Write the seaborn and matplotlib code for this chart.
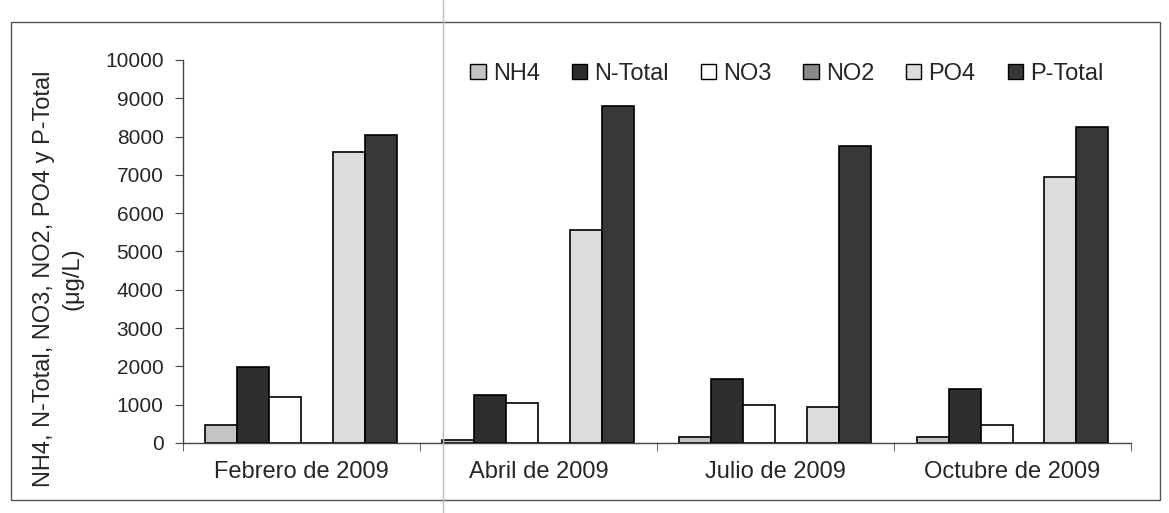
import numpy as np
import pandas as pd
import matplotlib
matplotlib.use("Agg")
import matplotlib.pyplot as plt
from matplotlib.patches import Rectangle
from matplotlib.lines import Line2D
import seaborn as sb

# data (µg/L)
fechas = ["Febrero de 2009", "Abril de 2009", "Julio de 2009", "Octubre de 2009"]
series = ["NH4", "N-Total", "NO3", "NO2", "PO4", "P-Total"]
nh4 = [470, 80, 165, 150]
n_total = [1990, 1250, 1680, 1420]
no3 = [1200, 1040, 1000, 480]
no2 = [0, 0, 0, 0]
po4 = [7600, 5560, 950, 6950]
p_total = [8050, 8800, 7750, 8250]

colores = {"NH4": "#c4c4c4", "N-Total": "#2e2e2e", "NO3": "#ffffff",
           "NO2": "#8a8a8a", "PO4": "#dcdcdc", "P-Total": "#383838"}

df = pd.DataFrame({"fecha": fechas, "NH4": nh4, "N-Total": n_total, "NO3": no3,
                   "NO2": no2, "PO4": po4, "P-Total": p_total})
largo = df.melt(id_vars="fecha", var_name="serie", value_name="valor")

sb.set_style("white")
plt.rcParams["font.family"] = ["Liberation Sans", "DejaVu Sans"]

fig = plt.figure(figsize=(11.69, 5.13), dpi=100)
ax = fig.add_axes([0.1565, 0.1365, 0.811, 0.7466])

sb.barplot(data=largo, x="fecha", y="valor", hue="serie", order=fechas,
           hue_order=series, palette=colores, width=0.81, saturation=1,
           edgecolor="black", linewidth=1.2, ax=ax, legend=False)

ax.set_ylim(0, 10000)
ax.set_xlim(-0.5, 3.5)
ax.set_yticks(np.arange(0, 10001, 1000))
ax.tick_params(axis="y", labelsize=15, length=6, direction="out", left=True, color="#444", pad=8)
ax.tick_params(axis="x", which="major", labelsize=17, length=0, pad=13)
ax.set_xticks(np.arange(-0.5, 4, 1), minor=True)
ax.tick_params(axis="x", which="minor", length=6, bottom=True, direction="out", color="#444")
for s in ["top", "right"]:
    ax.spines[s].set_visible(False)
for s in ["left", "bottom"]:
    ax.spines[s].set_color("#444")
    ax.spines[s].set_linewidth(1.0)
ax.set_xlabel("")
ax.set_ylabel("NH4, N-Total, NO3, NO2, PO4 y P-Total\n(μg/L)", fontsize=17,
              linespacing=1.35)
ax.yaxis.set_label_coords(-0.105, 0.43)

handles = [Rectangle((0, 0), 1, 1, facecolor=colores[s], edgecolor="black", linewidth=1.0)
           for s in series]
ax.legend(handles, series, loc="center right", bbox_to_anchor=(0.962, 0.856),
          bbox_transform=fig.transFigure, ncol=6, frameon=False, fontsize=17,
          handlelength=0.65, handleheight=0.65, handletextpad=0.3, columnspacing=1.35)

# marco exterior y pliegue del escaneo
fig.add_artist(Rectangle((0.0094, 0.025), 0.983, 0.932, transform=fig.transFigure,
                         fill=False, edgecolor="#555", linewidth=1.0))
fig.add_artist(Line2D([0.379, 0.379], [0.0, 1.0], transform=fig.transFigure,
                      color="#bbbbbb", linewidth=1.0))

fig.savefig("out.png", dpi=100, facecolor="white")
